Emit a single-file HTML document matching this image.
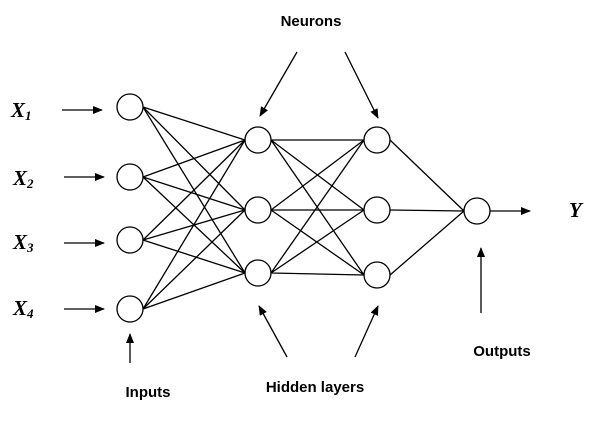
<!DOCTYPE html>
<html><head><style>
body{margin:0;background:#fff;width:609px;height:421px;overflow:hidden}
text{font-family:"Liberation Sans",sans-serif;font-weight:bold;font-size:15px;fill:#000}
.x{font-family:"Liberation Serif",serif;font-style:italic;font-weight:bold;font-size:21px}
</style></head><body>
<svg width="609" height="421" viewBox="0 0 609 421">
<defs><marker id="a" markerWidth="10" markerHeight="8" refX="9" refY="4" orient="auto" markerUnits="userSpaceOnUse"><path d="M0,0 L10,4 L0,8z" fill="#000"/></marker></defs>
<g stroke="#000" stroke-width="1.3" fill="none">
<path d="M143,107L245,140M143,107L245,210M143,107L245,273
M143,177L245,140M143,177L245,210M143,177L245,273
M143,240L245,140M143,240L245,210M143,240L245,273
M143,309L245,140M143,309L245,210M143,309L245,273"/>
<path d="M271,140L364,140M271,140L364,210M271,140L364,275
M271,210L364,140M271,210L364,210M271,210L364,275
M271,273L364,140M271,273L364,210M271,273L364,275"/>
<path d="M390,140L464,211M390,210L464,211M390,275L464,211"/>
<g marker-end="url(#a)">
<path d="M62,110L102,110"/><path d="M64,177L104,177"/><path d="M64,243L104,243"/><path d="M64,309L104,309"/>
<path d="M490,211L530,211"/>
<path d="M297,52L260,116"/><path d="M345,52L378,118"/>
<path d="M287,357L259,306"/><path d="M355,357L378,306"/>
<path d="M481,313L481,248"/>
<path d="M130,363L130,334"/>
</g>
</g>
<g stroke="#000" stroke-width="1.3" fill="#fff">
<circle cx="130" cy="107" r="13"/><circle cx="130" cy="177" r="13"/><circle cx="130" cy="240" r="13"/><circle cx="130" cy="309" r="13"/>
<circle cx="258" cy="140" r="13"/><circle cx="258" cy="210" r="13"/><circle cx="258" cy="273" r="13"/>
<circle cx="377" cy="140" r="13"/><circle cx="377" cy="210" r="13"/><circle cx="377" cy="275" r="13"/>
<circle cx="477" cy="211" r="13"/>
</g>
<text class="x" x="11" y="117">X<tspan font-size="13" dy="3">1</tspan></text>
<text class="x" x="13" y="185">X<tspan font-size="13" dy="3">2</tspan></text>
<text class="x" x="13" y="249">X<tspan font-size="13" dy="3">3</tspan></text>
<text class="x" x="13" y="315">X<tspan font-size="13" dy="3">4</tspan></text>
<text class="x" x="569" y="217">Y</text>
<text x="311" y="26" text-anchor="middle">Neurons</text>
<text x="148" y="397" text-anchor="middle">Inputs</text>
<text x="315" y="392" text-anchor="middle">Hidden layers</text>
<text x="502" y="356" text-anchor="middle">Outputs</text>
</svg>
</body></html>
